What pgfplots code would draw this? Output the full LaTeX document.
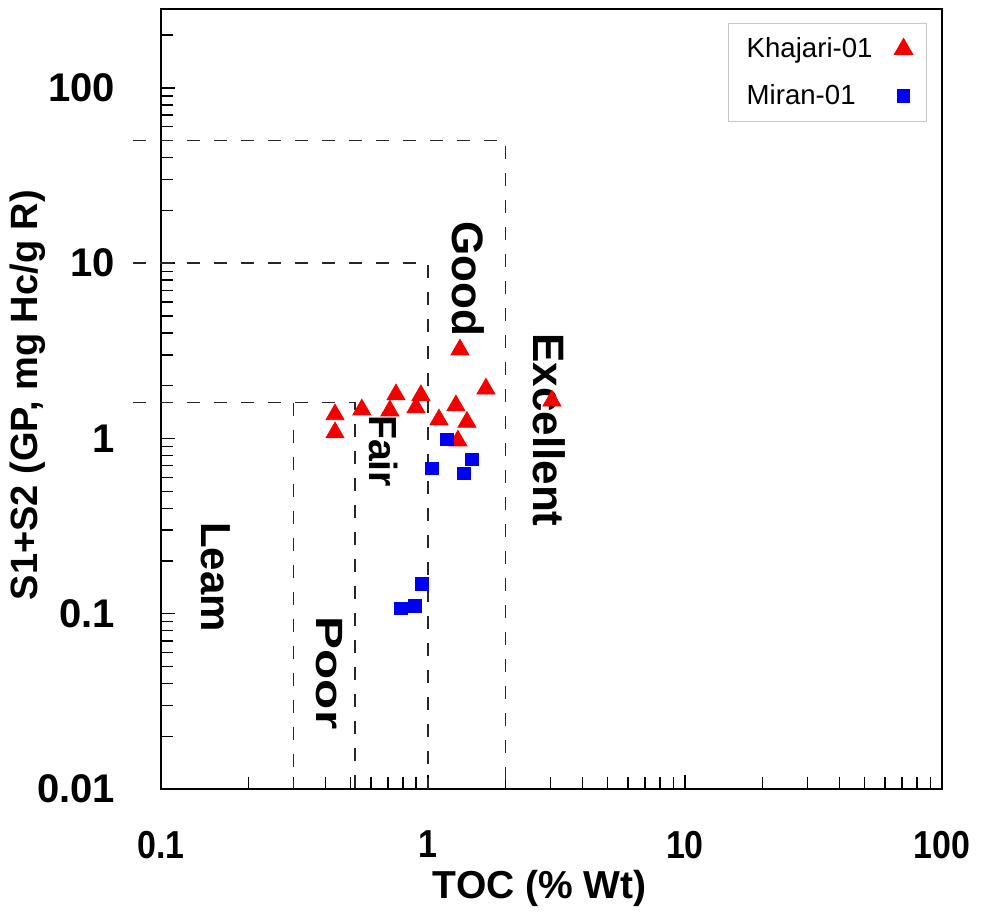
\documentclass[border=0pt]{standalone}
\usepackage{fontspec}
\setmainfont{Liberation Sans}
\newfontfamily\narrowsans[FakeStretch=0.87]{Liberation Sans}
\usepackage{graphicx}
\usepackage{pgfplots}
\pgfplotsset{compat=1.18}
\definecolor{mred}{RGB}{245,0,0}
\definecolor{mblue}{RGB}{0,0,245}
\begin{document}
\begin{tikzpicture}
\path[use as bounding box] (-80.5pt,-63pt) rectangle (411.5pt,394.5pt);
\begin{axis}[
  at={(0,0)}, anchor=south west,
  width=390.5pt, height=390pt, scale only axis,
  xmode=log, ymode=log,
  xmin=0.0915, xmax=100, ymin=0.01, ymax=282,
  axis line style={line width=1.4pt},
  tick pos=left, tick align=inside,
  xtick={0.0915,1,10,100}, xticklabels={0.1,1,10,100},
  ytick={0.01,0.1,1,10,100}, yticklabels={0.01,0.1,1,10,100},
  minor xtick={0.2,0.3,0.4,0.5,0.6,0.7,0.8,0.9,2,3,4,5,6,7,8,9,20,30,40,50,60,70,80,90},
  minor ytick={0.02,0.03,0.04,0.05,0.06,0.07,0.08,0.09,0.2,0.3,0.4,0.5,0.6,0.7,0.8,0.9,2,3,4,5,6,7,8,9,20,30,40,50,60,70,80,90,200},
  major tick length=7pt, minor tick length=6pt,
  every tick/.style={black, line width=0.7pt},
  xticklabel style={font=\narrowsans\bfseries\fontsize{19.5}{22}\selectfont, yshift=-17.5pt},
  yticklabel style={font=\bfseries\fontsize{20}{22}\selectfont, xshift=-19.5pt},
  xlabel={TOC (\% Wt)}, ylabel={S1+S2 (GP, mg Hc/g R)},
  every axis x label/.style={at={(axis description cs:0.485,0)}, yshift=-49.5pt, anchor=center, font=\bfseries\fontsize{19.5}{22}\selectfont},
  every axis y label/.style={at={(axis description cs:0,0.505)}, xshift=-66.5pt, rotate=90, anchor=center, font=\bfseries\fontsize{19}{22}\selectfont},
  clip=false,
  legend plot pos=right,
  legend style={at={(rel axis cs:0.981,0.982)}, anchor=north east, draw=black!22, line width=0.6pt,
    font=\fontsize{13.8}{17}\selectfont, legend cell align=left, row sep=8pt,
    column sep=9pt, inner xsep=7pt, inner ysep=5pt},
]
\addplot[only marks, mark=triangle*, mark size=5.2pt, mark options={fill=mred, draw=mred}] coordinates {
 (1.332,3.21) (1.681,1.92) (3.037,1.64) (0.751,1.78) (0.939,1.76) (1.285,1.54) (0.898,1.50)
 (0.711,1.44) (0.553,1.46) (0.435,1.37) (1.104,1.28) (1.418,1.24) (0.435,1.08) (1.308,0.97)
};
\addlegendentry{Khajari-01}
\addplot[only marks, mark=square*, mark size=3.1pt, mark options={fill=mblue, draw=mblue}] coordinates {
 (1.186,0.987) (1.483,0.759) (1.036,0.674) (1.381,0.631) (0.948,0.148) (0.890,0.111) (0.785,0.107)
};
\addlegendentry{Miran-01}
\addplot[forget plot, black!85, line width=0.75pt, dash pattern=on 6.5pt off 7pt] coordinates {(0.0711,50) (2,50) (2,0.01)};
\addplot[forget plot, black!85, line width=0.75pt, dash pattern=on 6.5pt off 7pt] coordinates {(0.0711,10) (1,10) (1,0.01)};
\addplot[forget plot, black!85, line width=0.75pt, dash pattern=on 6.5pt off 7pt] coordinates {(0.0711,1.6) (0.52,1.6) (0.52,0.01)};
\addplot[forget plot, black!85, line width=0.75pt, dash pattern=on 6.5pt off 7pt] coordinates {(0.3,1.6) (0.3,0.01)};
\node[rotate=-90, font=\bfseries\fontsize{21}{24}\selectfont] at (axis description cs:0.0704,0.2718) {Leam};
\node[rotate=-90, font=\bfseries\fontsize{19}{24}\selectfont] at (axis description cs:0.2151,0.1487) {\scalebox{1.3}[1]{Poor}};
\node[rotate=-90, font=\bfseries\fontsize{19.6}{24}\selectfont] at (axis description cs:0.2843,0.4333) {Fair};
\node[rotate=-90, font=\bfseries\fontsize{22}{24}\selectfont] at (axis description cs:0.3931,0.6538) {Good};
\node[rotate=-90, font=\bfseries\fontsize{22}{24}\selectfont] at (axis description cs:0.4968,0.4603) {Excellent};
\end{axis}
\end{tikzpicture}
\end{document}
